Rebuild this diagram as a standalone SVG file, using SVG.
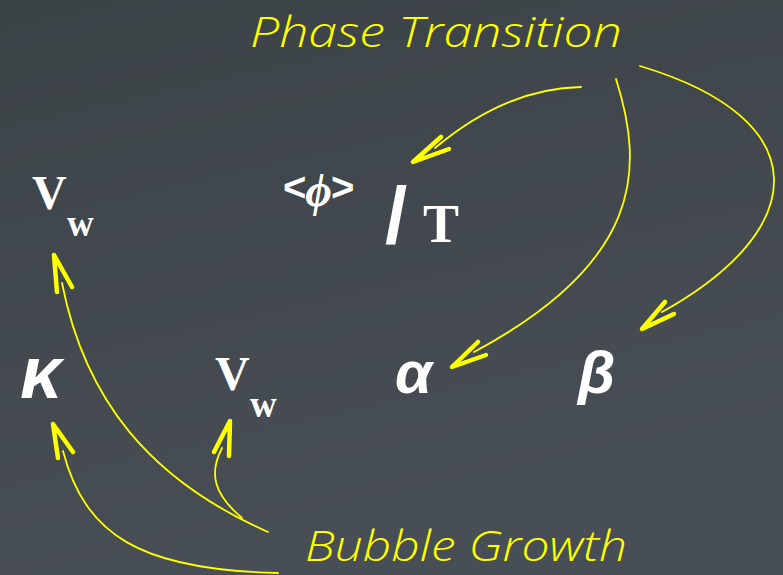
<svg xmlns="http://www.w3.org/2000/svg" width="783" height="575" viewBox="0 0 783 575">
<defs>
<linearGradient id="bg" x1="0" y1="0" x2="0.3" y2="1">
<stop offset="0" stop-color="#3c4347"/>
<stop offset="1" stop-color="#484e55"/>
</linearGradient>
</defs>
<style>
.hand{font-family:"Open Sans","DejaVu Sans",sans-serif;font-style:italic;font-weight:300;fill:#ffff00;font-size:43px}
.serif{font-family:"Liberation Serif","Times New Roman",serif;font-weight:bold;fill:#ffffff}
.greek{font-family:"Liberation Sans",Arial,sans-serif;font-weight:bold;font-style:italic;fill:#ffffff}
.sans{font-family:"Liberation Sans",Arial,sans-serif;font-weight:bold;fill:#ffffff}
.line{fill:none;stroke:#ffff00;stroke-width:1.8;stroke-linecap:round}
.head{fill:none;stroke:#ffff00;stroke-width:4.5;stroke-linecap:round;stroke-linejoin:round}
</style>
<rect width="783" height="575" fill="url(#bg)"/>

<g id="phase-transition">
<text class="hand" x="250" y="47" textLength="372" lengthAdjust="spacingAndGlyphs">Phase Transition</text>
</g>
<g id="bubble-growth">
<text class="hand" x="305" y="561" font-size="41" textLength="322" lengthAdjust="spacingAndGlyphs">Bubble Growth</text>
</g>

<g id="vw-top">
<text class="serif" x="32" y="209" font-size="48">V</text>
<text class="serif" x="67" y="236" font-size="37">w</text>
</g>
<g id="phi-over-T">
<text class="sans" x="283" y="201" font-size="40">&lt;<tspan class="serif" font-style="italic" font-size="46" dx="-1" dy="5">ϕ</tspan><tspan dx="-1" dy="-5">&gt;</tspan></text>
<text class="sans" x="385" y="243" font-size="80">/</text>
<text class="serif" x="423" y="242" font-size="54">T</text>
</g>
<g id="kappa">
<text class="greek" x="20" y="398" font-size="74">κ</text>
</g>
<g id="vw-mid">
<text class="serif" x="215" y="390" font-size="48">V</text>
<text class="serif" x="250" y="417" font-size="37">w</text>
</g>
<g id="alpha">
<text class="greek" x="395" y="393" font-size="60">α</text>
</g>
<g id="beta">
<text class="greek" x="578" y="393" font-size="60">β</text>
</g>

<g id="connectors">
<path class="line" d="M581,87 C530,88 480,110 435,148"/>
<polyline class="head" points="441,137 413,162 449,149"/>
<path class="line" d="M616,79 C645,170 642,262 474,352"/>
<polyline class="head" points="478,342 452,367 486,355"/>
<path class="line" d="M640,66 C820,120 810,230 662,312"/>
<polyline class="head" points="665,302 642,329 674,314"/>
<path class="line" d="M268,532 C150,480 85,400 62,283"/>
<polyline class="head" points="57,292 54,255 72,287"/>
<path class="line" d="M278,573 C140,570 85,535 63,451"/>
<polyline class="head" points="58,458 53,424 73,452"/>
<path class="line" d="M242,518 C215,495 208,475 222,448"/>
<polyline class="head" points="214,452 230,421 229,456"/>
</g>
</svg>
